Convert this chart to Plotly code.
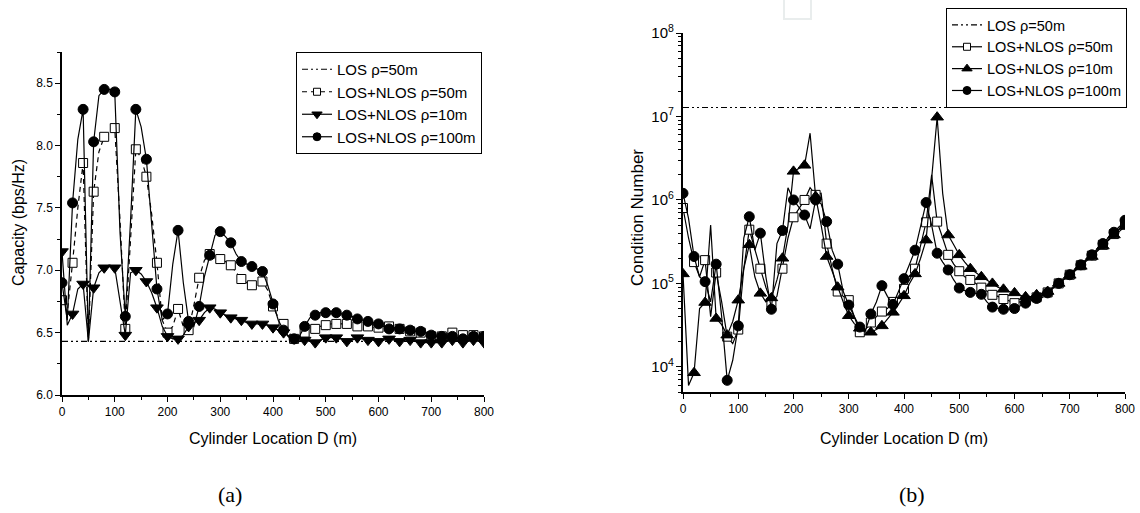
import plotly.graph_objects as go

# ---------------- data ----------------
D = list(range(0, 801, 10))  # cylinder location (m), step 10; markers every 20 m

los_D = [0, 800]
cap_los50 = [6.43, 6.43]
cn_los50 = [1.28e7, 1.28e7]

cap_r50 = [6.76, 6.66, 7.06, 7.50, 7.86, 6.43, 7.63, 7.95, 8.07, 8.10,
           8.14, 7.40, 6.53, 7.30, 7.97, 7.90, 7.75, 7.45, 7.06, 6.60,
           6.50, 6.55, 6.69, 6.55, 6.52, 6.72, 6.94, 7.08, 7.13, 7.11,
           7.09, 7.07, 7.04, 6.98, 6.93, 6.90, 6.88, 6.89, 6.91, 6.84,
           6.71, 6.62, 6.57, 6.50, 6.45, 6.46, 6.50, 6.51, 6.53, 6.55,
           6.56, 6.57, 6.57, 6.57, 6.57, 6.56, 6.55, 6.55, 6.55, 6.54,
           6.54, 6.55, 6.55, 6.54, 6.53, 6.52, 6.51, 6.50, 6.50, 6.48,
           6.47, 6.47, 6.47, 6.49, 6.50, 6.49, 6.48, 6.48, 6.48, 6.47,
           6.47]

cap_r10 = [7.15, 6.56, 6.65, 6.85, 6.89, 6.43, 6.86, 6.98, 7.02, 7.03,
           7.02, 6.75, 6.48, 6.98, 7.00, 6.97, 6.91, 6.82, 6.70, 6.55,
           6.47, 6.45, 6.45, 6.48, 6.55, 6.58, 6.60, 6.66, 6.70, 6.69,
           6.66, 6.64, 6.62, 6.61, 6.60, 6.58, 6.57, 6.57, 6.57, 6.56,
           6.54, 6.52, 6.50, 6.47, 6.45, 6.44, 6.44, 6.43, 6.42, 6.44,
           6.46, 6.46, 6.46, 6.45, 6.43, 6.44, 6.46, 6.45, 6.44, 6.44,
           6.43, 6.44, 6.45, 6.44, 6.43, 6.44, 6.44, 6.43, 6.42, 6.42,
           6.42, 6.42, 6.42, 6.43, 6.44, 6.43, 6.42, 6.43, 6.44, 6.43,
           6.42]

cap_r100 = [6.90, 6.60, 7.54, 8.05, 8.29, 6.43, 8.03, 8.40, 8.45, 8.45,
            8.43, 7.30, 6.63, 7.40, 8.29, 8.15, 7.89, 7.35, 6.85, 6.60,
            6.65, 7.05, 7.32, 6.90, 6.59, 6.55, 6.71, 6.95, 7.12, 7.28,
            7.31, 7.27, 7.22, 7.13, 7.07, 7.05, 7.03, 7.01, 6.99, 6.88,
            6.73, 6.60, 6.52, 6.47, 6.45, 6.47, 6.55, 6.62, 6.64, 6.66,
            6.66, 6.67, 6.66, 6.65, 6.64, 6.63, 6.61, 6.60, 6.59, 6.58,
            6.57, 6.55, 6.53, 6.53, 6.53, 6.52, 6.52, 6.51, 6.51, 6.50,
            6.48, 6.47, 6.47, 6.47, 6.47, 6.46, 6.45, 6.46, 6.47, 6.47,
            6.47]

cn_r50 = [8e5, 3.5e5, 1.8e5, 1.2e5, 1.9e5, 4e4, 1.35e5, 6e4, 2.3e4, 1.9e4,
          2.8e4, 1.5e5, 4.4e5, 2.5e5, 1.5e5, 9e4, 5.9e4, 7e4, 1.5e5, 3.5e5,
          6.2e5, 8e5, 1.0e6, 1.4e6, 1.15e6, 1.2e6, 3.0e5, 1.5e5, 8e4, 7e4,
          6.3e4, 4e4, 2.6e4, 2.8e4, 3.4e4, 4e4, 4.6e4, 5e4, 6e4, 7e4,
          8.6e4, 1.1e5, 1.5e5, 2.8e5, 5.4e5, 2e6, 5.5e5, 3.5e5, 2.2e5, 1.7e5,
          1.4e5, 1.2e5, 1.1e5, 1e5, 8.9e4, 8e4, 7.3e4, 7e4, 6.5e4, 6.2e4,
          5.8e4, 6e4, 6.2e4, 6.4e4, 6.8e4, 7.3e4, 7.8e4, 8.8e4, 1.0e5, 1.12e5,
          1.27e5, 1.45e5, 1.65e5, 1.9e5, 2.15e5, 2.5e5, 2.9e5, 3.4e5, 3.9e5, 4.5e5,
          5.2e5]

cn_r10 = [1.3e5, 6e3, 8.5e3, 5e4, 5.9e4, 5e5, 3.8e4, 3.2e4, 2.4e4, 3.5e4,
          6.3e4, 1.5e5, 2.9e5, 1.2e5, 7.6e4, 6e4, 6.7e4, 1.1e5, 2.0e5, 5e5,
          2.2e6, 2.4e6, 2.6e6, 6.3e6, 1.1e6, 5e5, 2.1e5, 1.4e5, 9e4, 6e4,
          4.1e4, 3.3e4, 2.9e4, 2.6e4, 2.6e4, 2.8e4, 3.1e4, 3.7e4, 4.5e4, 5.6e4,
          7.1e4, 1e5, 1.3e5, 2e5, 3.3e5, 1.8e6, 9.8e6, 1.2e6, 3.8e5, 2.9e5,
          2.2e5, 1.8e5, 1.5e5, 1.35e5, 1.2e5, 1.1e5, 1.0e5, 9e4, 8.5e4, 8e4,
          7.7e4, 7.2e4, 6.9e4, 7e4, 7.3e4, 7.6e4, 8e4, 9e4, 1.0e5, 1.12e5,
          1.25e5, 1.42e5, 1.6e5, 1.85e5, 2.1e5, 2.45e5, 2.8e5, 3.3e5, 3.8e5, 4.2e5,
          4.8e5]

cn_r100 = [1.2e6, 6e5, 2.1e5, 1.2e5, 1.05e5, 6e4, 1.7e5, 4e4, 6.9e3, 1.2e4,
           3.1e4, 3.5e5, 6.3e5, 2.5e5, 4.0e5, 1.2e5, 4.9e4, 3e5, 4.3e5, 1.4e6,
           1.0e6, 8e5, 6.6e5, 4.5e5, 1.0e6, 9e5, 5.5e5, 2.5e5, 1.7e5, 8e4,
           5.5e4, 4e4, 3e4, 2.7e4, 4.3e4, 6e4, 9.4e4, 7e4, 5.6e4, 8e4,
           1.14e5, 1.7e5, 2.5e5, 5e5, 9.3e5, 5e5, 2.3e5, 1.8e5, 1.45e5, 1.1e5,
           8.8e4, 8.2e4, 7.8e4, 7.6e4, 7.4e4, 6e4, 5.2e4, 5e4, 4.9e4, 4.9e4,
           5.0e4, 5.4e4, 5.8e4, 6.2e4, 6.6e4, 7.2e4, 7.7e4, 8.8e4, 1.0e5, 1.13e5,
           1.27e5, 1.45e5, 1.67e5, 1.93e5, 2.2e5, 2.6e5, 3.0e5, 3.5e5, 4.1e5, 4.8e5,
           5.7e5]

names = ["LOS \u03c1=50m", "LOS+NLOS \u03c1=50m", "LOS+NLOS \u03c1=10m", "LOS+NLOS \u03c1=100m"]

FONT = "Arial, Liberation Sans, sans-serif"
LOSDASH = "6px,3px,2px,3px,2px,3px"
LW = 1.2

fig = go.Figure()


def add_series(x, y, xa, ya, name, legend, symbol, size, fill, dash):
    fig.add_trace(go.Scatter(x=x, y=y, mode="lines", xaxis=xa, yaxis=ya,
                             line=dict(color="black", width=LW, dash=dash),
                             showlegend=False, hoverinfo="skip"))
    fig.add_trace(go.Scatter(x=x[::2], y=y[::2], mode="markers", xaxis=xa, yaxis=ya,
                             marker=dict(symbol=symbol, size=size, color=fill,
                                         line=dict(color="black", width=1)),
                             showlegend=False))
    fig.add_trace(go.Scatter(x=[None], y=[None], mode="lines+markers", xaxis=xa, yaxis=ya,
                             name=name, legend=legend,
                             line=dict(color="black", width=LW, dash=dash),
                             marker=dict(symbol=symbol, size=size - 2, color=fill,
                                         line=dict(color="black", width=1))))


# ---- panel (a)
fig.add_trace(go.Scatter(x=los_D, y=cap_los50, mode="lines", name=names[0], legend="legend",
                         xaxis="x", yaxis="y", line=dict(color="black", width=LW, dash=LOSDASH)))
add_series(D, cap_r50, "x", "y", names[1], "legend", "square", 9, "white", "5px,4px")
add_series(D, cap_r10, "x", "y", names[2], "legend", "triangle-down", 11, "black", "solid")
add_series(D, cap_r100, "x", "y", names[3], "legend", "circle", 10, "black", "solid")

# ---- panel (b)
fig.add_trace(go.Scatter(x=los_D, y=cn_los50, mode="lines", name=names[0], legend="legend2",
                         xaxis="x2", yaxis="y2", line=dict(color="black", width=LW, dash=LOSDASH)))
add_series(D, cn_r50, "x2", "y2", names[1], "legend2", "square", 9, "white", "solid")
add_series(D, cn_r10, "x2", "y2", names[2], "legend2", "triangle-up", 11, "black", "solid")
add_series(D, cn_r100, "x2", "y2", names[3], "legend2", "circle", 10, "black", "solid")

W, H = 1140, 513


def px(x):
    return x / W


def py(y):
    return 1 - y / H


axis_common = dict(showline=True, linecolor="black", linewidth=1.5, showgrid=False,
                   zeroline=False, ticks="outside", ticklen=5, tickwidth=1.2,
                   tickcolor="black", tickfont=dict(size=12, color="black", family=FONT),
                   mirror=False, automargin=False)

fig.update_layout(
    width=W, height=H, margin=dict(l=0, r=0, t=0, b=0, autoexpand=False),
    paper_bgcolor="white", plot_bgcolor="white",
    font=dict(family=FONT, color="black"),
    xaxis=dict(domain=[px(62), px(484)], range=[0, 800], dtick=100, anchor="y",
               minor=dict(dtick=50, ticks="outside", ticklen=3, tickcolor="black"),
               **axis_common),
    yaxis=dict(domain=[py(395), py(52)], range=[6.0, 8.75], dtick=0.5, tickformat=".1f",
               anchor="x",
               minor=dict(dtick=0.25, ticks="outside", ticklen=3, tickcolor="black"),
               **axis_common),
    xaxis2=dict(domain=[px(683), px(1125)], range=[0, 800], dtick=100, anchor="y2",
                minor=dict(dtick=50, ticks="outside", ticklen=3, tickcolor="black"),
                **axis_common),
    yaxis2=dict(domain=[py(392), py(33)], type="log", range=[3.699, 8], dtick=1,
                exponentformat="power", anchor="x2",
                minor=dict(dtick="D1", ticks="outside", ticklen=3, tickcolor="black"),
                **axis_common),
    legend=dict(x=px(482), xanchor="right", y=py(52), yanchor="top",
                bordercolor="black", borderwidth=1, bgcolor="white",
                font=dict(size=15, family=FONT, color="black"), tracegroupgap=0,
                itemwidth=30),
    legend2=dict(x=px(1127), xanchor="right", y=py(8), yanchor="top",
                 bordercolor="black", borderwidth=1, bgcolor="white",
                 font=dict(size=14.5, family=FONT, color="black"), tracegroupgap=0,
                 itemwidth=30),
    showlegend=True,
)

annotations = [
    dict(text="Cylinder Location D (m)", x=px(273), y=py(438), xref="paper", yref="paper",
         showarrow=False, font=dict(size=16, family=FONT), xanchor="center", yanchor="middle"),
    dict(text="Cylinder Location D (m)", x=px(904), y=py(438), xref="paper", yref="paper",
         showarrow=False, font=dict(size=16, family=FONT), xanchor="center", yanchor="middle"),
    dict(text="Capacity (bps/Hz)", x=px(19), y=py(223), xref="paper", yref="paper",
         textangle=-90, showarrow=False, font=dict(size=16, family=FONT),
         xanchor="center", yanchor="middle"),
    dict(text="Condition Number", x=px(637), y=py(218), xref="paper", yref="paper",
         textangle=-90, showarrow=False, font=dict(size=17, family=FONT),
         xanchor="center", yanchor="middle"),
    dict(text="(a)", x=px(230), y=py(494), xref="paper", yref="paper", showarrow=False,
         font=dict(size=22, family="Liberation Serif, DejaVu Serif, serif"),
         xanchor="center", yanchor="middle"),
    dict(text="(b)", x=px(912), y=py(494), xref="paper", yref="paper", showarrow=False,
         font=dict(size=22, family="Liberation Serif, DejaVu Serif, serif"),
         xanchor="center", yanchor="middle"),
]
fig.update_layout(annotations=annotations)

# faint watermark box at the top of the page
fig.add_shape(type="rect", xref="paper", yref="paper", x0=px(784), x1=px(811),
              y0=py(19), y1=py(-4), line=dict(color="#e9eded", width=2), fillcolor="rgba(0,0,0,0)")

fig.write_html("out.html", config={"displayModeBar": False},
               post_script="document.body.style.margin='0';document.body.style.overflow='hidden';")
